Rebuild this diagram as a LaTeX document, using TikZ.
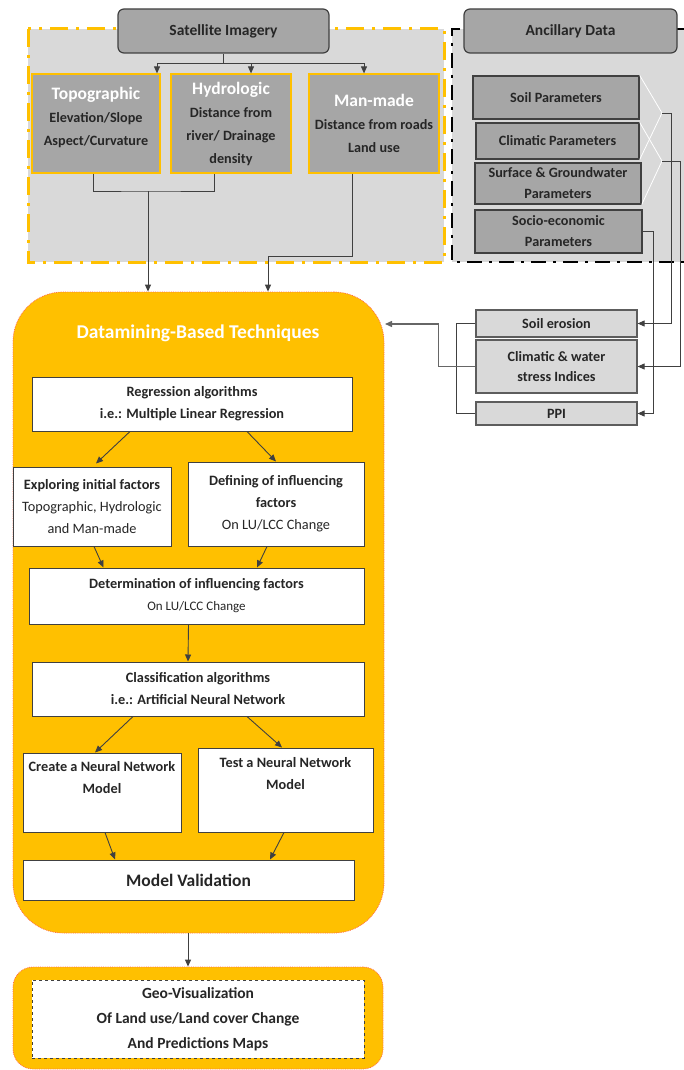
\documentclass[tikz,border=0pt]{standalone}
\usepackage{fontspec}
\setmainfont{Carlito}
\usetikzlibrary{arrows.meta,calc}
\definecolor{lgray}{HTML}{D9D9D9}
\definecolor{mgray}{HTML}{A6A6A6}
\definecolor{dgray}{HTML}{404040}
\definecolor{gold}{HTML}{FFC000}
\definecolor{txt}{HTML}{262626}
\definecolor{redline}{HTML}{FF6A4D}
\newcommand\myfs[2]{\fontsize{#1}{#2}\selectfont}
\begin{document}
\begin{tikzpicture}[x=1pt,y=-1pt,
  every node/.style={text=txt, font=\myfs{14.3}{22}\bfseries},
  hdr/.style={draw=dgray, line width=1.2pt, fill=mgray, rounded corners=6pt, inner sep=0pt, font=\myfs{15.5}{22}\bfseries},
  factor/.style={draw=gold, line width=1.2pt, fill=mgray, inner sep=0pt, align=center, font=\myfs{14.2}{23}\bfseries},
  param/.style={draw=dgray, line width=1.3pt, fill=mgray, inner sep=0pt, align=center, font=\myfs{14.2}{21}\bfseries},
  index/.style={draw=dgray!85, line width=1.2pt, fill=lgray, inner sep=0pt, align=center, font=\myfs{14.2}{20}\bfseries},
  wbox/.style={draw=dgray, line width=1pt, fill=white, inner sep=0pt, align=center},
  orng/.style={draw=redline, densely dotted, line width=0.8pt, fill=gold, inner sep=0pt},
  conn/.style={draw=dgray, line width=0.9pt},
  arr/.style={conn, -{Triangle[length=7pt,width=6pt]}}
]
\useasboundingbox (0,0) rectangle (684,1070);

% regions
\fill[lgray] (28,29) rectangle (444,262);
\draw[gold, line width=3pt, dash pattern=on 18pt off 8pt on 3pt off 8pt] (28,29) rectangle (444,262);
\fill[lgray] (452,29) rectangle (684,262);
\draw[black, line width=2.5pt, dash pattern=on 15pt off 7pt on 3pt off 7pt] (684,29) -- (452,29) -- (452,262) -- (684,262);

% headers
\node[hdr, minimum width=211, minimum height=44] (sat) at (223.5,31) {Satellite Imagery};
\node[hdr, minimum width=213, minimum height=44] (anc) at (570.5,31) {Ancillary Data};

% factor boxes
\node[factor, minimum width=128, minimum height=99] (topo) at (96,123.5)
  {{\myfs{17.5}{23}\color{white}Topographic}\\Elevation/Slope\\Aspect/Curvature\\[-9pt]\mbox{}};
\node[factor, minimum width=120, minimum height=99] (hydro) at (231,123.5)
  {{\myfs{17.5}{23}\color{white}Hydrologic}\\Distance from\\river/ Drainage\\density};
\node[factor, minimum width=130, minimum height=99] (man) at (374,123.5)
  {{\myfs{17.5}{23}\color{white}Man-made}\\Distance from roads\\Land use};

% ancillary parameters
\node[param, minimum width=166, minimum height=43] (soilp) at (556,97.5) {Soil Parameters};
\node[param, minimum width=163, minimum height=36] (climp) at (557.5,141) {Climatic Parameters};
\node[param, minimum width=166, minimum height=41] (surfp) at (558,183.5) {Surface \& Groundwater\\Parameters};
\node[param, minimum width=167, minimum height=43] (socp) at (558.5,231.5) {Socio-economic\\Parameters};

\coordinate (j1) at (662,113);
\coordinate (j2) at (662,161);
\draw[white, line width=0.8pt] (soilp.north east) -- (j1) -- (climp.south east);
\draw[white, line width=0.8pt] (climp.north east) -- (j2) -- (surfp.south east);

% indices
\node[index, minimum width=161, minimum height=27] (soile) at (556.5,323.5) {Soil erosion};
\node[index, minimum width=161, minimum height=53] (climw) at (556.5,366.5) {Climatic \& water\\stress Indices};
\node[index, minimum width=161, minimum height=23] (ppi) at (556.5,413.5) {PPI};

% main orange block
\node[orng, rounded corners=50pt, minimum width=371, minimum height=641] (main) at (198.5,612.5) {};
\node[text=white, font=\myfs{19.5}{22}\bfseries] (dmt) at (198,333) {Datamining-Based Techniques};

\node[wbox, minimum width=320, minimum height=54] (reg) at (192,404)
  {Regression algorithms\\i.e.: Multiple Linear Regression};
\node[wbox, minimum width=158, minimum height=79] (expl) at (92,506.5)
  {Exploring initial factors\\{\mdseries Topographic, Hydrologic}\\{\mdseries and Man-made}};
\node[wbox, minimum width=176, minimum height=84] (def) at (276,504)
  {Defining of influencing\\factors\\{\mdseries On LU/LCC Change}};
\node[wbox, minimum width=335, minimum height=56] (det) at (196.5,596)
  {Determination of influencing factors\\{\mdseries\myfs{13}{22}On LU/LCC Change}};
\node[wbox, minimum width=332, minimum height=54] (cls) at (198,689)
  {Classification algorithms\\i.e.: Artificial Neural Network};
\node[wbox, minimum width=158, minimum height=79] (create) at (102,792.5) {};
\node[align=center] (createT) at ($(create.north)+(0,25)$) {Create a Neural Network\\Model};
\node[wbox, minimum width=175, minimum height=84] (test) at (285.5,790) {};
\node[align=center] (testT) at ($(test.north)+(0,26)$) {Test a Neural Network\\Model};
\node[wbox, minimum width=331, minimum height=40, font=\myfs{17.5}{22}\bfseries] (mv) at (188.5,880) {Model Validation};

% geo-visualization
\node[orng, rounded corners=20pt, minimum width=370, minimum height=102] (geoo) at (198,1018) {};
\node[wbox, dashed, minimum width=332, minimum height=78, font=\myfs{15.5}{25}\bfseries] (geo) at (198,1019)
  {Geo-Visualization\\Of Land use/Land cover Change\\And Predictions Maps};

% satellite connectors
\coordinate (bar) at (223.5,63);
\draw[conn] (sat.south) -- (bar);
\draw[arr] (bar) -| ($(topo.north)+(61,0)$);
\draw[arr] (bar) -| ($(hydro.north)+(20,0)$);
\draw[arr] (bar) -| ($(man.north)+(-10,0)$);
\coordinate (tj) at (148,191);
\draw[conn] ($(topo.south)+(-3,0)$) |- (tj) -| ($(hydro.south)+(-17,0)$);
\draw[arr] (tj) -- (tj |- main.north);
\draw[arr] ($(man.south)+(-22,0)$) -- ++(0,83) -| ($(main.north)+(69.5,0)$);

% ancillary connectors
\draw[arr] (j1) -- ++(9,0) |- (soile.east);
\draw[arr] (j2) -- ++(18,0) |- (climw.east);
\draw[arr] (socp.east) -- ++(11,0) |- (ppi.east);
\draw[conn] (soile.west) -- ++(-19,0) |- (ppi.west);
\coordinate (dmin) at (385,324);
\draw[arr, draw=dgray!80, line width=1.4pt] (climw.west) -- ++(-37,0) |- (dmin);

% internal flow
\draw[arr] ($(reg.south)+(-62,0)$) -- ($(expl.north)+(4,-3)$);
\draw[arr] ($(reg.south)+(55,0)$) -- (def.north);
\draw[arr] ($(expl.south)+(2,0)$) -- ($(det.north)+(-93,0)$);
\draw[arr] ($(def.south)+(-9,0)$) -- ($(det.north)+(60.5,0)$);
\draw[arr] ($(det.south)+(-8,0)$) -- ($(cls.north)+(-10,0)$);
\draw[arr] ($(cls.south)+(-65,0)$) -- ($(create.north)+(-7,0)$);
\draw[arr] ($(cls.south)+(49,0)$) -- ($(test.north)+(-3.5,0)$);
\draw[arr] ($(create.south)+(3,0)$) -- ($(mv.north)+(-73.5,0)$);
\draw[arr] ($(test.south)+(-1.5,0)$) -- ($(mv.north)+(81.5,0)$);
\draw[arr] ($(main.south)+(-10.5,0)$) -- ($(geoo.north)+(-10,0)$);
\end{tikzpicture}
\end{document}
